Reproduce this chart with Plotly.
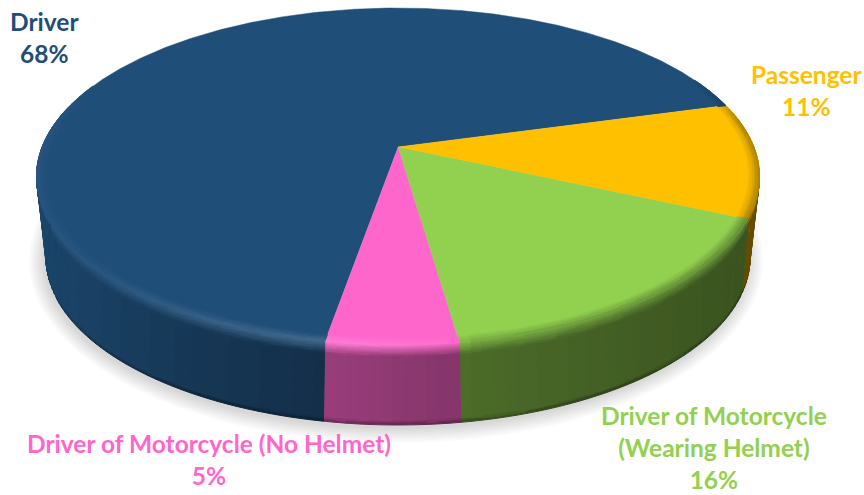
import numpy as np
import plotly.graph_objects as go

# ---- data ----
categories = ["Passenger", "Driver of Motorcycle<br>(Wearing Helmet)", "Driver of Motorcycle (No Helmet)", "Driver"]
shares = [11, 16, 5, 68]
colors = ["#FFC000", "#92D050", "#FF66CC", "#1F4E79"]
label_x = [806, 714, 209, 44]
label_y = [90, 447, 459, 37]

# ---- scene geometry (perspective of the top and bottom discs, in pixels) ----
CX = 398
START = 15.4
TOP = dict(far=8, near=345, half=361.5, c=0.175)
BOT = dict(far=91, near=425, half=352, c=0.22)


def project(disc, theta, r=1.0):
    u, v = r * np.cos(np.radians(theta)), r * np.sin(np.radians(theta))
    c = disc["c"]
    a = (disc["far"] * (1 + c) - disc["near"] * (1 - c)) / 2
    b = (disc["far"] * (1 + c) + disc["near"] * (1 - c)) / 2
    d = disc["half"] * np.sqrt(1 - c * c)
    w = 1 + c * v
    return CX + d * u / w, (a * v + b) / w


def wall_point(theta, t):
    x0, y0 = project(TOP, theta)
    x1, y1 = project(BOT, theta)
    return x0 + (x1 - x0) * t, y0 + (y1 - y0) * t


def rgb(h):
    return np.array([int(h[i:i + 2], 16) for i in (1, 3, 5)], float)


def wall_rgb(base, x):
    return base * np.interp(x, [50, 200, 325, 457, 745], [0.86, 0.70, 0.60, 0.52, 0.40])


def rim_rgb(base, x, theta):
    h = np.interp(x, [36, 100, 200, 320, 400, 455, 470, 760], [.04, .05, .11, .16, .12, .03, -.4, -.55])
    h *= np.clip((0.45 - np.sin(np.radians(theta))) / 0.3, 0, 1)
    if h >= 0:
        return base + (255 - base) * h
    return base + (wall_rgb(base, x) - base) * (-h)


def css(c):
    c = np.clip(np.round(np.asarray(c) / 2) * 2, 0, 255).astype(int)
    return f"rgb({c[0]},{c[1]},{c[2]})"


def add_poly(store, color, xs, ys):
    e = store.setdefault(color, ([], []))
    e[0].extend(list(xs) + [xs[0], None])
    e[1].extend(list(ys) + [ys[0], None])


fig = go.Figure()


def flush(store):
    for color, (xs, ys) in store.items():
        fig.add_trace(go.Scatter(x=xs, y=ys, mode="lines", fill="toself", fillcolor=color,
                                 line=dict(color=color, width=1), hoverinfo="skip", showlegend=False))


# soft shadow
ang = np.linspace(0, 360, 181)
for grow in [15, 13, 11, 9, 7, 5, 3, 1]:
    sx, sy = project(BOT, ang)
    sx = CX + (sx - CX) * (1 + grow / 352) - 2
    sy = 258 + (sy - 258) * (1 + grow / 167) + 3
    fig.add_trace(go.Scatter(x=sx, y=sy, mode="lines", fill="toself", fillcolor="rgba(0,0,0,0.02)",
                             line=dict(width=0), hoverinfo="skip", showlegend=False))

# slice angle ranges, clockwise from START
edges = START - np.cumsum([0] + shares) * 3.6
STEP = 1.5
walls, rims, wedges = {}, {}, []
T_LEVELS = [0, .015, .03, .045, .06, .075, .09, .105, .12, .135, .15, .95, .975, 1.0]
R_LEVELS = [.97, .975, .98, .985, .99, .995, 1.0]

for i, col in enumerate(colors):
    base = rgb(col)
    a0, a1 = edges[i], edges[i + 1]
    n = max(1, int(round((a0 - a1) / STEP)))
    th = np.linspace(a0, a1, n + 1)
    # top face
    tx, ty = project(TOP, np.linspace(a0, a1, 4 * n + 1))
    apx, apy = project(TOP, 0, 0)
    wedges.append((col, [apx] + list(tx), [apy] + list(ty)))
    for k in range(n):
        t0, t1 = th[k], th[k + 1]
        mid = (t0 + t1) / 2
        mx = project(TOP, mid)[0]
        wall_c = wall_rgb(base, mx)
        rim_c = rim_rgb(base, mx, mid)
        # rim of the top face
        for j in range(len(R_LEVELS) - 1):
            f = (j + 0.5) / (len(R_LEVELS) - 1)
            c = base + (rim_c - base) * f
            if np.abs(c - base).max() < 2:
                continue
            p = [project(TOP, t0, R_LEVELS[j]), project(TOP, t1, R_LEVELS[j]),
                 project(TOP, t1, R_LEVELS[j + 1]), project(TOP, t0, R_LEVELS[j + 1])]
            add_poly(rims, css(c), [q[0] for q in p], [q[1] for q in p])
        # wall
        if np.sin(np.radians(mid)) > 0.25:
            continue
        for j in range(len(T_LEVELS) - 1):
            t_a, t_b = T_LEVELS[j], T_LEVELS[j + 1]
            tm = (t_a + t_b) / 2
            if tm < .15:
                c = rim_c + (wall_c - rim_c) * (tm / .15)
            elif tm < .95:
                c = wall_c
            else:
                c = wall_c * (1 - (tm - .95) / .05 * 0.35)
            p = [wall_point(t0, t_a), wall_point(t1, t_a), wall_point(t1, t_b), wall_point(t0, t_b)]
            add_poly(walls, css(c), [q[0] for q in p], [q[1] for q in p])

flush(walls)
for col, xs, ys in reversed(wedges):
    fig.add_trace(go.Scatter(x=xs, y=ys, mode="lines", fill="toself", fillcolor=col,
                             line=dict(color=col, width=0.5), hoverinfo="skip", showlegend=False))
flush(rims)

for name, pct, col, lx, ly in zip(categories, shares, colors, label_x, label_y):
    fig.add_annotation(x=lx, y=ly, xref="x", yref="y", text=f"<b>{name}<br>{pct}%</b>", showarrow=False,
                       xanchor="center", yanchor="middle", align="center",
                       font=dict(family="Lato", size=24.5, color=col))

fig.update_layout(width=864, height=495, margin=dict(l=0, r=0, t=0, b=0),
                  paper_bgcolor="white", plot_bgcolor="white", showlegend=False,
                  xaxis=dict(range=[0, 864], visible=False, fixedrange=True),
                  yaxis=dict(range=[495, 0], visible=False, fixedrange=True))
fig.write_html("out.html", config=dict(displayModeBar=False),
               post_script="document.body.style.margin='0';document.documentElement.style.overflow='hidden';")
